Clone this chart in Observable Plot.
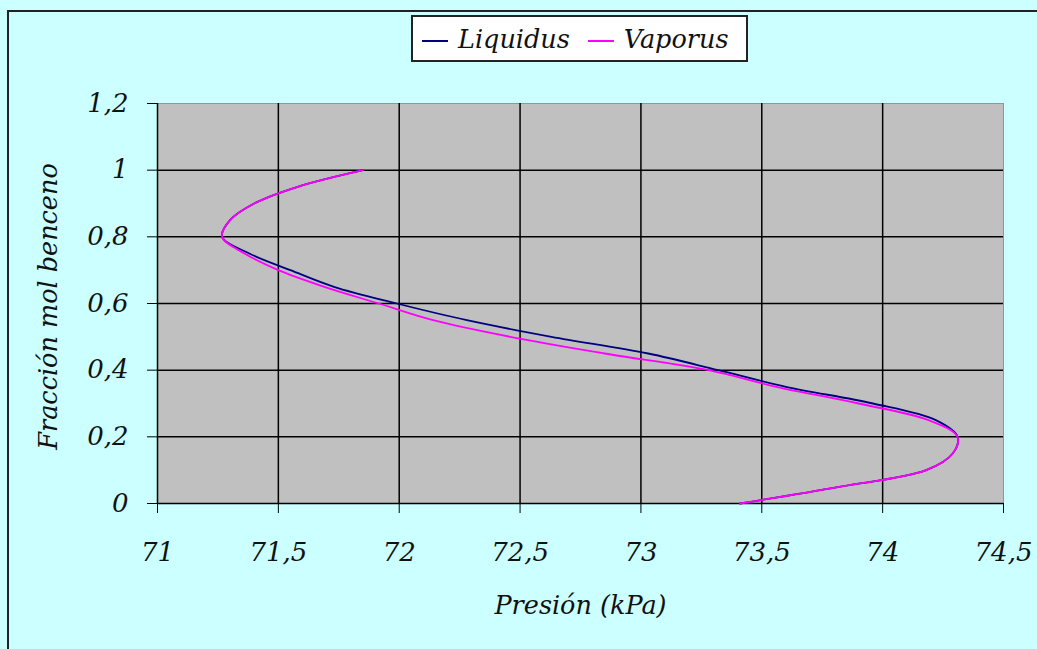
<!DOCTYPE html>
<html>
<head>
<meta charset="utf-8">
<script src="https://cdn.jsdelivr.net/npm/d3@7"></script>
<script src="https://cdn.jsdelivr.net/npm/@observablehq/plot@0.6"></script>
<style>
  html, body { margin: 0; padding: 0; background: #ccffff; overflow: hidden; }
  #wrap { position: relative; width: 1037px; height: 649px; background: #ccffff; }
  #border { position: absolute; left: 7px; top: 10px; width: 1100px; height: 700px;
            border-left: 2px solid #222; border-top: 2px solid #222; box-sizing: border-box; }
  #chart { position: absolute; left: 0; top: 0; }
  #legend { position: absolute; left: 411px; top: 15px; width: 337px; height: 47px; box-sizing: border-box;
            background: #fff; border: 2px solid #222; display: flex; align-items: center;
            font-family: "DejaVu Serif"; font-style: italic; font-size: 25.5px; color: #111; }
  .sw { display: inline-block; width: 26px; height: 0; border-top: 2px solid; margin: 0 10px 0 9px; position: relative; top: 2px; }
</style>
</head>
<body>
<div id="wrap">
  <div id="border"></div>
  <div id="chart"></div>
  <div id="legend"></div>
</div>
<script>
// Data
const fraction = [0, 0.05, 0.1, 0.15, 0.2, 0.25, 0.3, 0.35, 0.4, 0.45, 0.5, 0.55, 0.6, 0.65, 0.7, 0.75, 0.8, 0.85, 0.9, 0.95, 1.0];
const liquidus = [73.41, 73.82, 74.18, 74.29, 74.31, 74.22, 73.96, 73.60, 73.32, 73.03, 72.63, 72.28, 71.99, 71.73, 71.55, 71.38, 71.267, 71.30, 71.40, 71.58, 71.85];
const vaporus  = [73.41, 73.82, 74.18, 74.29, 74.31, 74.19, 73.90, 73.56, 73.28, 72.85, 72.46, 72.14, 71.915, 71.69, 71.50, 71.36, 71.267, 71.30, 71.40, 71.58, 71.85];
const seriesNames = ["Liquidus", "Vaporus"];
const seriesColors = ["#000080", "#ff00ff"];
const xTicks = [71, 71.5, 72, 72.5, 73, 73.5, 74, 74.5];
const yTicks = [0, 0.2, 0.4, 0.6, 0.8, 1, 1.2];
const xLabel = "Presión (kPa)";
const yLabel = "Fracción mol benceno";

const liqData = fraction.map((f, i) => ({p: liquidus[i], f}));
const vapData = fraction.map((f, i) => ({p: vaporus[i], f}));
const fmt = d => String(d).replace(".", ",");
const serif = "DejaVu Serif";

const chart = Plot.plot({
  width: 1037,
  height: 649,
  marginLeft: 157,
  marginRight: 34,
  marginTop: 103,
  marginBottom: 146,
  style: {background: "transparent", fontFamily: serif, fontStyle: "italic", fontSize: "26px", color: "#111"},
  x: {domain: [71, 74.5]},
  y: {domain: [0, 1.2]},
  marks: [
    Plot.frame({fill: "#c0c0c0", stroke: "#8a9a9a"}),
    Plot.gridX(xTicks.slice(1, -1), {stroke: "#000", strokeOpacity: 1, strokeWidth: 1.5}),
    Plot.gridY(yTicks.slice(1, -1), {stroke: "#000", strokeOpacity: 1, strokeWidth: 1.5}),
    Plot.ruleX([71], {stroke: "#000", strokeWidth: 1.5}),
    Plot.ruleY([0], {stroke: "#000", strokeWidth: 1.5}),
    Plot.axisX(xTicks, {tickFormat: fmt, tickSize: 10, tickPadding: 29, label: null, stroke: "#000", fontFamily: serif, fontSize: 26}),
    Plot.axisY(yTicks, {tickFormat: fmt, tickSize: 10, tickPadding: 19, label: null, stroke: "#000", fontFamily: serif, fontSize: 26}),
    Plot.line(liqData, {x: "p", y: "f", stroke: seriesColors[0], strokeWidth: 1.8, curve: "catmull-rom"}),
    Plot.line(vapData, {x: "p", y: "f", stroke: seriesColors[1], strokeWidth: 1.8, curve: "catmull-rom"}),
    Plot.text([xLabel], {frameAnchor: "bottom", dy: 110, fontSize: 25.5, fill: "#111", fontFamily: serif}),
    Plot.text([yLabel], {frameAnchor: "left", textAnchor: "middle", dx: -109, dy: 3, rotate: -90, fontSize: 25.5, fill: "#111", fontFamily: serif})
  ]
});
document.getElementById("chart").appendChild(chart);

const legend = document.getElementById("legend");
seriesNames.forEach((name, i) => {
  const sw = document.createElement("span");
  sw.className = "sw";
  sw.style.borderTopColor = seriesColors[i];
  if (i > 0) sw.style.marginLeft = "18px";
  legend.appendChild(sw);
  const t = document.createElement("span");
  t.textContent = name;
  legend.appendChild(t);
});
</script>
</body>
</html>
